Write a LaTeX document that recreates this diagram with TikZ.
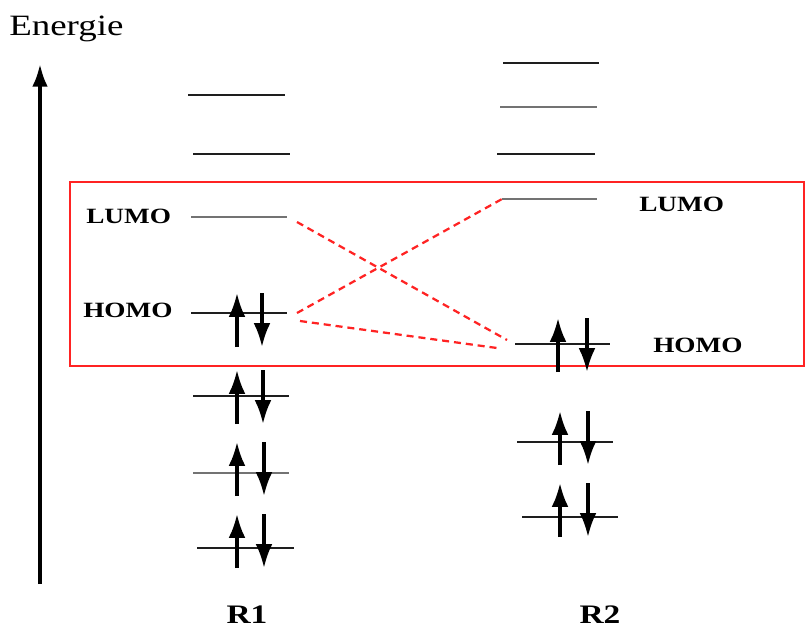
\documentclass[tikz,border=0pt]{standalone}
\usepackage{fontspec}
\setmainfont{Liberation Serif}[FakeStretch=1.25]
\usetikzlibrary{arrows.meta, calc}
\definecolor{mored}{RGB}{255,35,35}
\definecolor{modark}{RGB}{30,30,30}
\definecolor{mogray}{RGB}{115,115,115}
\tikzset{
  level/.style={line width=1.9pt, draw=modark},
  emptylevel/.style={line width=1.9pt, draw=mogray},
  spin/.style={-{Latex[length=17pt, width=12pt]}, line width=2.4pt, color=black},
  axis/.style={-{Latex[length=16pt, width=11pt]}, line width=2.5pt, color=black},
  mix/.style={dash pattern=on 5pt off 3.5pt, line width=1.6pt, color=mored},
  window/.style={draw=mored, line width=1.4pt},
  orblabel/.style={font=\bfseries\fontsize{15.5}{18}\selectfont, inner sep=0pt},
  molabel/.style={font=\bfseries\fontsize{19}{22}\selectfont, inner sep=0pt}
}
% orbital level: [style]{name}{x left}{x right}{y}
\newcommand{\orbital}[5][level]{%
  \draw[#1] (#3,#5) coordinate (#2-l) -- (#4,#5) coordinate (#2-r);}
% electron pair: {x up}{x down}{centre y}
\newcommand{\spinpair}[3]{%
  \draw[spin] (#1,#3+27) -- (#1,#3-27);
  \draw[spin] (#2,#3-27) -- (#2,#3+27);}

\begin{document}
\begin{tikzpicture}[x=0.025cm, y=-0.025cm]
  \useasboundingbox (0,0) rectangle (806,627);

  % Energy axis
  \draw[axis] (40,584) -- (40,64);
  \node[anchor=base west, inner sep=0pt, font=\fontsize{21}{24}\selectfont] (energie) at (9,35) {Energie};

  % Frontier orbital window
  \draw[window] (70,182) rectangle (804,366);

  % R1 levels
  \orbital{r1a}{188}{285}{95}
  \orbital{r1b}{193}{290}{154}
  \orbital[emptylevel]{r1lumo}{191}{287}{217}
  \orbital{r1homo}{191}{287}{313}
  \orbital{r1c}{193}{289}{396}
  \orbital[emptylevel]{r1d}{193}{289}{473}
  \orbital{r1e}{197}{294}{548}
  \spinpair{237}{262}{320}
  \spinpair{237}{263}{397}
  \spinpair{237}{264}{469}
  \spinpair{237}{264}{541}

  % R2 levels
  \orbital{r2a}{503}{599}{63}
  \orbital[emptylevel]{r2b}{500}{597}{107}
  \orbital{r2c}{497}{595}{154}
  \orbital[emptylevel]{r2lumo}{502}{597}{199}
  \orbital{r2homo}{515}{610}{344}
  \orbital{r2d}{517}{613}{442}
  \orbital{r2e}{522}{618}{517}
  \spinpair{558}{587}{345}
  \spinpair{560}{588}{438}
  \spinpair{560}{588}{510}

  % Labels
  \node[orblabel, anchor=west] (lumo1) at (86,216) {LUMO};
  \node[orblabel, anchor=west] (homo1) at (83,310) {HOMO};
  \node[orblabel, anchor=west] (lumo2) at (639,204) {LUMO};
  \node[orblabel, anchor=west] (homo2) at (653,345) {HOMO};
  \node[molabel, anchor=base] (r1) at (247,623) {R1};
  \node[molabel, anchor=base] (r2) at (600,623) {R2};

  % HOMO-LUMO interactions
  \draw[mix] ($(r1lumo-r)+(10,5)$) -- ($(r2homo-l)+(-8,-4)$);
  \draw[mix] ($(r1homo-r)+(10,0)$) -- (r2lumo-l);
  \draw[mix] ($(r1homo-r)+(13,8)$) -- ($(r2homo-l)+(-18,4)$);
\end{tikzpicture}
\end{document}
